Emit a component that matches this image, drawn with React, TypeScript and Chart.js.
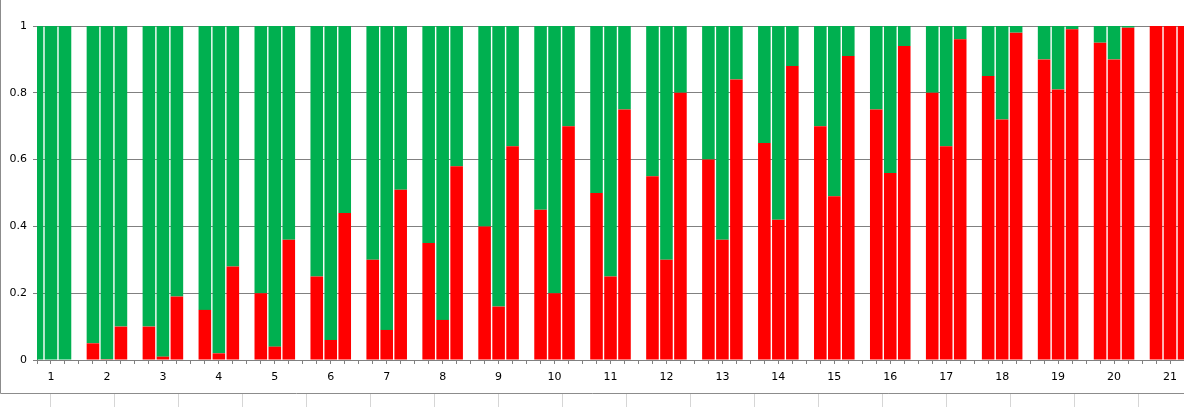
import React, { useEffect, useRef } from "react";
import { Chart, registerables } from "chart.js";

Chart.register(...registerables);

const categories = [1, 2, 3, 4, 5, 6, 7, 8, 9, 10, 11, 12, 13, 14, 15, 16, 17, 18, 19, 20, 21];

const redA = [0, 0.05, 0.1, 0.15, 0.2, 0.25, 0.3, 0.35, 0.4, 0.45, 0.5, 0.55, 0.6, 0.65, 0.7, 0.75, 0.8, 0.85, 0.9, 0.95, 1];
const greenA = [1, 0.95, 0.9, 0.85, 0.8, 0.75, 0.7, 0.65, 0.6, 0.55, 0.5, 0.45, 0.4, 0.35, 0.3, 0.25, 0.2, 0.15, 0.1, 0.05, 0];

const redB = [0, 0.0025, 0.01, 0.02, 0.04, 0.06, 0.09, 0.12, 0.16, 0.2, 0.25, 0.3, 0.36, 0.42, 0.49, 0.56, 0.64, 0.72, 0.81, 0.9, 1];
const greenB = [1, 0.9975, 0.99, 0.98, 0.96, 0.94, 0.91, 0.88, 0.84, 0.8, 0.75, 0.7, 0.64, 0.58, 0.51, 0.44, 0.36, 0.28, 0.19, 0.1, 0];

const redC = [0, 0.1, 0.19, 0.28, 0.36, 0.44, 0.51, 0.58, 0.64, 0.7, 0.75, 0.8, 0.84, 0.88, 0.91, 0.94, 0.96, 0.98, 0.99, 0.995, 1];
const greenC = [1, 0.9, 0.81, 0.72, 0.64, 0.56, 0.49, 0.42, 0.36, 0.3, 0.25, 0.2, 0.16, 0.12, 0.09, 0.06, 0.04, 0.02, 0.01, 0.005, 0];

const yTicks = [0, 0.2, 0.4, 0.6, 0.8, 1];

const RED = "#FF0000";
const GREEN = "#00B050";
const AXIS_GRAY = "#808080";

const W = 1184;
const H = 407;

const toPts = (vals: number[]) => vals.map((v, i) => ({ x: categories[i], y: v }));

const framePlugin = {
  id: "frame",
  afterDraw(chart: any) {
    const ctx = chart.ctx;
    ctx.save();
    ctx.lineWidth = 1;
    ctx.strokeStyle = "#8c8c8c";
    ctx.beginPath();
    ctx.moveTo(0.5, 0);
    ctx.lineTo(0.5, 393.5);
    ctx.lineTo(W, 393.5);
    ctx.stroke();
    ctx.strokeStyle = "#d6d6d6";
    ctx.beginPath();
    for (let x = 50.5; x < W; x += 64) {
      ctx.moveTo(x, 394);
      ctx.lineTo(x, H);
    }
    ctx.stroke();
    ctx.restore();
  },
};

export default function App() {
  const ref = useRef<HTMLCanvasElement | null>(null);

  useEffect(() => {
    if (!ref.current) return;
    const mk = (label: string, data: number[], color: string, stack: string) => ({
      label,
      data: toPts(data),
      backgroundColor: color,
      borderWidth: 0,
      stack,
      categoryPercentage: 0.75,
      barPercentage: 0.9,
    });
    const chart = new Chart(ref.current, {
      type: "bar",
      data: {
        datasets: [
          mk("A red", redA, RED, "a"),
          mk("A green", greenA, GREEN, "a"),
          mk("B red", redB, RED, "b"),
          mk("B green", greenB, GREEN, "b"),
          mk("C red", redC, RED, "c"),
          mk("C green", greenC, GREEN, "c"),
        ] as any,
      },
      options: {
        animation: false,
        responsive: false,
        devicePixelRatio: 1,
        layout: { padding: { top: 26, left: 0, right: 0, bottom: 0 } },
        plugins: { legend: { display: false }, tooltip: { enabled: false } },
        scales: {
          x: {
            type: "linear",
            display: false,
            offset: false,
            min: 0.75,
            max: 21.25,
            grid: { offset: false },
            ticks: { stepSize: 1, includeBounds: false },
          },
          x2: {
            type: "linear",
            axis: "x",
            position: "bottom",
            offset: false,
            min: 0.75,
            max: 21.25,
            afterFit: (s: any) => {
              s.height = 47;
              s.paddingLeft = 0;
              s.paddingRight = 0;
            },
            grid: {
              display: true,
              offset: false,
              drawOnChartArea: false,
              drawTicks: true,
              tickLength: 4,
              color: AXIS_GRAY,
            },
            border: { display: true, color: AXIS_GRAY },
            ticks: {
              stepSize: 0.25,
              autoSkip: false,
              maxRotation: 0,
              minRotation: 0,
              includeBounds: true,
              padding: 7,
              color: "#000",
              font: { family: "DejaVu Sans", size: 11 },
              callback: (v: any) => (Number.isInteger(v) && categories.includes(v) ? String(v) : ""),
            },
          },
          y: {
            type: "linear",
            stacked: true,
            min: 0,
            max: 1,
            afterFit: (s: any) => {
              s.width = 37;
            },
            afterBuildTicks: (s: any) => {
              s.ticks = yTicks.map((v) => ({ value: v }));
            },
            grid: {
              color: AXIS_GRAY,
              drawTicks: true,
              tickLength: 4,
            },
            border: { display: true, color: AXIS_GRAY },
            ticks: {
              padding: 6,
              color: "#000",
              font: { family: "DejaVu Sans", size: 11 },
              callback: (v: any) => String(v),
            },
          },
        },
      } as any,
      plugins: [framePlugin],
    });
    return () => chart.destroy();
  }, []);

  return (
    <div style={{ position: "fixed", left: 0, top: 0, width: W, height: H, background: "#fff" }}>
      <canvas ref={ref} width={W} height={H} style={{ display: "block", width: W, height: H }} />
    </div>
  );
}
